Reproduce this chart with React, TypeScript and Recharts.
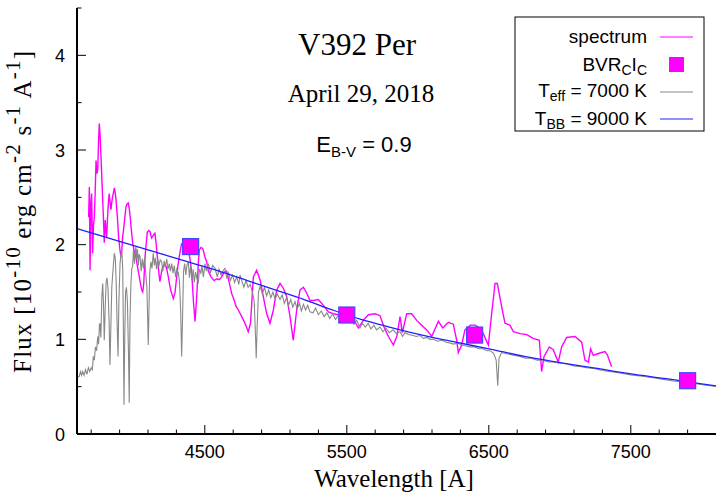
import React from 'react';
import { ComposedChart, Line, Scatter, XAxis, YAxis } from 'recharts';

// observed spectrum, [wavelength A, flux 1e-10]
const spectrum: [number, number][] = [
  [3682, 2.29], [3687, 2.61], [3692, 1.73], [3698, 2.45], [3703, 2.54], [3710, 1.91], [3716, 2.2], [3722, 2.29],
  [3728, 2.55], [3734, 2.89], [3740, 2.75], [3746, 2.79], [3752, 3.1], [3757, 3.28], [3763, 3.15], [3769, 2.93],
  [3775, 2.7], [3781, 2.47], [3787, 2.25], [3792, 2.02], [3799, 2.26], [3804, 2.15], [3809, 2.08], [3814, 2.25],
  [3818, 2.37], [3823, 2.48], [3827, 2.54], [3833, 2.45], [3839, 2.37], [3845, 2.45], [3851, 2.51], [3857, 2.55],
  [3863, 2.6], [3869, 2.55], [3875, 2.47], [3884, 2.3], [3893, 2.08], [3902, 1.95], [3910, 1.87], [3916, 1.95],
  [3921, 2.08], [3927, 2.15], [3933, 2.23], [3939, 2.32], [3945, 2.4], [3953, 2.43], [3961, 2.44], [3968, 2.38],
  [3975, 2.29], [3983, 2.15], [3992, 2.02], [4003, 1.93], [4015, 1.87], [4027, 1.76], [4039, 1.66], [4048, 1.58],
  [4056, 1.52], [4063, 1.5], [4070, 1.59], [4079, 1.87], [4088, 2.02], [4095, 2.13], [4105, 2.15], [4114, 2.14],
  [4120, 2.1], [4126, 2.07], [4138, 2.1], [4149, 2.12], [4158, 2.0], [4166, 1.87], [4175, 1.72], [4184, 1.61],
  [4194, 1.7], [4204, 1.77], [4215, 1.78], [4227, 1.77], [4235, 1.72], [4243, 1.66], [4252, 1.58], [4260, 1.52],
  [4270, 1.47], [4278, 1.43], [4290, 1.49], [4302, 1.66], [4311, 1.78], [4320, 1.87], [4330, 1.96], [4337, 2.01],
  [4349, 2.01], [4360, 1.99], [4372, 1.96], [4384, 1.94], [4396, 1.85], [4408, 1.7], [4420, 1.4], [4431, 1.19],
  [4440, 1.38], [4447, 1.56], [4454, 1.8], [4461, 1.94], [4473, 1.97], [4485, 1.96], [4493, 1.92], [4501, 1.87],
  [4513, 1.82], [4525, 1.72], [4544, 1.66], [4565, 1.62], [4584, 1.64], [4602, 1.63], [4619, 1.66], [4635, 1.71],
  [4654, 1.72], [4672, 1.6], [4690, 1.48], [4705, 1.42], [4720, 1.35], [4736, 1.31], [4760, 1.24], [4783, 1.17],
  [4806, 1.08], [4822, 1.17], [4842, 1.66], [4865, 1.73], [4889, 1.63], [4912, 1.45], [4936, 1.27], [4959, 1.17],
  [4983, 1.31], [5006, 1.52], [5030, 1.59], [5053, 1.54], [5077, 1.45], [5100, 1.24], [5123, 0.99], [5147, 1.31],
  [5170, 1.52], [5194, 1.55], [5217, 1.49], [5241, 1.41], [5264, 1.41], [5299, 1.42], [5334, 1.36], [5370, 1.29],
  [5405, 1.27], [5440, 1.26], [5476, 1.24], [5510, 1.23], [5546, 1.22], [5581, 1.12], [5616, 1.2], [5652, 1.26],
  [5699, 1.27], [5734, 1.25], [5762, 1.13], [5793, 1.03], [5828, 0.94], [5852, 1.03], [5875, 1.24], [5891, 1.07],
  [5922, 1.27], [5957, 1.27], [5992, 1.2], [6027, 1.15], [6063, 1.1], [6098, 1.03], [6145, 1.19], [6175, 1.12],
  [6215, 1.18], [6250, 1.16], [6274, 0.99], [6285, 0.86], [6309, 0.94], [6332, 1.1], [6370, 1.15], [6403, 1.15],
  [6426, 1.13], [6461, 1.06], [6497, 0.94], [6520, 1.27], [6544, 1.59], [6560, 1.59], [6591, 1.34], [6614, 1.17],
  [6649, 1.15], [6673, 1.08], [6720, 1.06], [6767, 1.05], [6813, 1.01], [6856, 0.99], [6872, 0.66], [6889, 0.82],
  [6926, 0.92], [6954, 0.89], [6989, 0.76], [7013, 0.92], [7048, 1.02], [7107, 1.03], [7154, 0.97], [7177, 0.78],
  [7201, 0.76], [7217, 0.9], [7236, 0.83], [7271, 0.85], [7318, 0.87], [7334, 0.84], [7365, 0.71],
];

// Teff = 7000 K model
const model: [number, number][] = [
  [3600, 0.6], [3616, 0.61], [3625, 0.66], [3632, 0.62], [3640, 0.66], [3650, 0.62], [3660, 0.68], [3670, 0.63],
  [3680, 0.7], [3690, 0.66], [3700, 0.7], [3708, 0.68], [3715, 0.82], [3722, 0.78], [3730, 0.92], [3738, 0.88],
  [3746, 1.03], [3752, 0.95], [3758, 1.15], [3762, 1.17], [3768, 1.02], [3775, 1.45], [3781, 1.59], [3786, 1.4],
  [3792, 0.99], [3798, 1.3], [3805, 1.6], [3811, 1.65], [3818, 1.55], [3826, 1.2], [3832, 0.73], [3838, 1.1],
  [3845, 1.55], [3852, 1.7], [3858, 1.82], [3863, 1.91], [3870, 1.85], [3876, 1.6], [3882, 1.2], [3889, 0.82],
  [3895, 1.4], [3903, 1.8], [3910, 1.9], [3915, 1.94], [3922, 1.75], [3926, 1.2], [3931, 0.31], [3936, 1.0],
  [3942, 1.5], [3948, 1.55], [3955, 1.4], [3962, 0.9], [3968, 0.33], [3973, 1.2], [3980, 1.6], [3986, 1.75],
  [3992, 1.77], [3998, 1.95], [4005, 1.8], [4010, 1.92], [4015, 1.98], [4020, 1.85], [4026, 1.95], [4032, 1.78],
  [4038, 1.9], [4044, 1.87], [4052, 1.72], [4060, 1.85], [4068, 1.75], [4076, 1.86], [4084, 1.7], [4092, 1.55],
  [4098, 1.2], [4102, 0.94], [4106, 1.25], [4112, 1.7], [4120, 1.82], [4128, 1.75], [4137, 1.91], [4145, 1.78],
  [4152, 1.86], [4160, 1.74], [4168, 1.85], [4176, 1.77], [4186, 1.84], [4196, 1.82], [4205, 1.72], [4214, 1.83],
  [4222, 1.76], [4232, 1.85], [4240, 1.74], [4250, 1.8], [4258, 1.72], [4267, 1.8], [4276, 1.7], [4285, 1.78],
  [4294, 1.66], [4303, 1.74], [4314, 1.7], [4322, 1.6], [4330, 1.3], [4337, 0.82], [4343, 1.2], [4350, 1.72],
  [4358, 1.8], [4366, 1.68], [4375, 1.79], [4384, 1.81], [4392, 1.65], [4400, 1.78], [4410, 1.62], [4418, 1.74],
  [4426, 1.6], [4435, 1.71], [4444, 1.65], [4454, 1.59], [4462, 1.74], [4472, 1.7], [4480, 1.78], [4490, 1.66],
  [4501, 1.8], [4510, 1.72], [4525, 1.8], [4540, 1.7], [4555, 1.78], [4572, 1.75], [4588, 1.66], [4600, 1.74],
  [4615, 1.68], [4630, 1.73], [4642, 1.75], [4655, 1.64], [4668, 1.7], [4680, 1.62], [4695, 1.68], [4710, 1.6],
  [4725, 1.66], [4740, 1.58], [4748, 1.68], [4760, 1.62], [4775, 1.55], [4790, 1.62], [4805, 1.55], [4820, 1.58],
  [4835, 1.5], [4848, 1.4], [4858, 1.0], [4862, 0.8], [4868, 1.1], [4878, 1.5], [4890, 1.56], [4905, 1.48],
  [4920, 1.55], [4935, 1.46], [4950, 1.52], [4965, 1.44], [4980, 1.5], [4995, 1.42], [5010, 1.48], [5030, 1.42],
  [5045, 1.47], [5060, 1.38], [5075, 1.44], [5090, 1.36], [5105, 1.42], [5120, 1.34], [5135, 1.4], [5150, 1.32],
  [5167, 1.38], [5180, 1.3], [5195, 1.37], [5210, 1.31], [5225, 1.36], [5240, 1.29], [5262, 1.28], [5280, 1.33],
  [5300, 1.26], [5320, 1.3], [5340, 1.24], [5360, 1.28], [5380, 1.22], [5400, 1.27], [5420, 1.21], [5440, 1.25],
  [5452, 1.24], [5470, 1.19], [5490, 1.24], [5510, 1.18], [5530, 1.22], [5550, 1.16], [5570, 1.2], [5593, 1.12],
  [5610, 1.17], [5630, 1.13], [5650, 1.17], [5670, 1.11], [5690, 1.15], [5710, 1.1], [5734, 1.13], [5755, 1.08],
  [5775, 1.12], [5800, 1.07], [5825, 1.1], [5850, 1.06], [5875, 1.08], [5893, 1.03], [5910, 1.07], [5935, 1.05],
  [5967, 1.04], [5990, 1.03], [6015, 1.04], [6040, 1.01], [6065, 1.02], [6086, 1.0], [6110, 1.0], [6140, 0.98],
  [6170, 0.99], [6200, 0.97], [6230, 0.96], [6250, 0.95], [6280, 0.96], [6310, 0.94], [6340, 0.93], [6370, 0.92],
  [6400, 0.92], [6430, 0.9], [6460, 0.9], [6485, 0.88], [6510, 0.88], [6535, 0.85], [6552, 0.78], [6563, 0.51],
  [6572, 0.8], [6590, 0.86], [6620, 0.85], [6650, 0.84], [6680, 0.83], [6720, 0.82], [6760, 0.8], [6800, 0.8],
  [6840, 0.78], [6880, 0.78], [6920, 0.76], [6954, 0.76], [7000, 0.75], [7050, 0.74], [7100, 0.72], [7150, 0.71],
  [7190, 0.7], [7250, 0.69], [7300, 0.67], [7350, 0.66], [7424, 0.645], [7500, 0.625], [7580, 0.61], [7656, 0.595],
  [7720, 0.58], [7800, 0.56], [7893, 0.545], [7960, 0.53], [8030, 0.515], [8093, 0.505],
];

// TBB = 9000 K black body
const blackBody: [number, number][] = [
  [3600, 2.17], [3800, 2.08], [4000, 1.99], [4200, 1.9], [4400, 1.81], [4600, 1.72], [4800, 1.62], [5000, 1.52],
  [5200, 1.42], [5400, 1.31], [5600, 1.21], [5800, 1.13], [6000, 1.055], [6250, 0.975], [6500, 0.9], [6750, 0.82],
  [7000, 0.755], [7250, 0.695], [7500, 0.635], [7750, 0.585], [8000, 0.53], [8100, 0.507],
];

// B, V, Rc, Ic photometry
const photometry: [number, number][] = [[4400, 1.98], [5500, 1.257], [6400, 1.045], [7900, 0.563]];

const xTicks = [3700, 3900, 4100, 4300, 4500, 4700, 4900, 5100, 5300, 5500, 5700, 5900, 6100, 6300, 6500, 6700, 6900, 7100, 7300, 7500, 7700, 7900];
const xMajor = [4500, 5500, 6500, 7500];
const yTicks = [0, 0.5, 1, 1.5, 2, 2.5, 3, 3.5, 4, 4.5];
const yMajor = [0, 1, 2, 3, 4];

const toRows = (arr: [number, number][]) => arr.map(([wl, f]) => ({ wl, f }));

const SANS = "'Liberation Sans', Arial, Helvetica, sans-serif";
const SERIF = "'Liberation Serif', 'Times New Roman', serif";

const BottomTick = ({ x, y, payload }: any) => {
  const major = xMajor.includes(payload.value);
  return (
    <g>
      <line x1={x} x2={x} y1={y} y2={y - (major ? 9 : 4.5)} stroke="#000" />
      {major && (
        <text x={x} y={y + 24} textAnchor="middle" fontFamily={SANS} fontSize={18} fill="#000">
          {payload.value}
        </text>
      )}
    </g>
  );
};

const TopTick = ({ x, y, payload }: any) => {
  const major = xMajor.includes(payload.value);
  return <line x1={x} x2={x} y1={y} y2={y + (major ? 9 : 4.5)} stroke="#000" />;
};

const LeftTick = ({ x, y, payload }: any) => {
  const major = yMajor.includes(payload.value);
  return (
    <g>
      <line x1={x} x2={x + (major ? 9 : 4.5)} y1={y} y2={y} stroke="#000" />
      {major && (
        <text x={x - 12} y={y + 6.5} textAnchor="end" fontFamily={SANS} fontSize={18} fill="#000">
          {payload.value}
        </text>
      )}
    </g>
  );
};

const RightTick = ({ x, y, payload }: any) => {
  const major = yMajor.includes(payload.value);
  return <line x1={x} x2={x - (major ? 9 : 4.5)} y1={y} y2={y} stroke="#000" />;
};

const BandSquare = ({ cx, cy }: any) => (
  <rect x={cx - 8} y={cy - 8} width={16} height={16} fill="#ff00ff" stroke="#4646ff" strokeWidth={1.2} />
);

const frame = { stroke: '#000', strokeWidth: 2 };

export default function App() {
  return (
    <div style={{ position: 'absolute', left: 0, top: 0, width: 721, height: 498, background: '#fff' }}>
      <ComposedChart width={721} height={498} margin={{ top: 8, right: 5, bottom: 34, left: 17 }}>
        <XAxis xAxisId="x" dataKey="wl" type="number" domain={[3600, 8100]} allowDataOverflow ticks={xTicks}
          interval={0} height={30} tickSize={0} tickMargin={0} tickLine={false} axisLine={frame}
          tick={(p: any) => <BottomTick {...p} />} />
        <XAxis xAxisId="top" orientation="top" dataKey="wl" type="number" domain={[3600, 8100]} allowDataOverflow
          ticks={xTicks} interval={0} height={0} tickSize={0} tickMargin={0} tickLine={false} axisLine={frame}
          tick={(p: any) => <TopTick {...p} />} />
        <YAxis yAxisId="y" type="number" domain={[0, 4.5]} allowDataOverflow ticks={yTicks} interval={0}
          width={60} tickSize={0} tickMargin={0} tickLine={false} axisLine={frame}
          tick={(p: any) => <LeftTick {...p} />} />
        <YAxis yAxisId="right" orientation="right" type="number" domain={[0, 4.5]} allowDataOverflow ticks={yTicks}
          interval={0} width={0} tickSize={0} tickMargin={0} tickLine={false} axisLine={frame}
          tick={(p: any) => <RightTick {...p} />} />
        <Line xAxisId="x" yAxisId="y" data={toRows(spectrum)} dataKey="f" type="linear" stroke="#ff00ff"
          strokeWidth={1.4} dot={false} isAnimationActive={false} />
        <Line xAxisId="x" yAxisId="y" data={toRows(model)} dataKey="f" type="linear" stroke="#888888"
          strokeWidth={1.1} dot={false} isAnimationActive={false} />
        <Line xAxisId="x" yAxisId="y" data={toRows(blackBody)} dataKey="f" type="monotone" stroke="#1f1fff"
          strokeWidth={1.3} dot={false} isAnimationActive={false} />
        <Scatter xAxisId="x" yAxisId="y" data={toRows(photometry)} dataKey="f" shape={(p: any) => <BandSquare {...p} />}
          isAnimationActive={false} />
      </ComposedChart>

      <svg width={721} height={498} style={{ position: 'absolute', left: 0, top: 0, pointerEvents: 'none' }}>
        <text x={357} y={55} textAnchor="middle" fontFamily={SERIF} fontSize={31} fill="#000">V392 Per</text>
        <text x={361} y={102} textAnchor="middle" fontFamily={SERIF} fontSize={25} fill="#000">April 29, 2018</text>
        <text x={364} y={152} textAnchor="middle" fontFamily={SANS} fontSize={22} fill="#000">
          E<tspan fontSize={15} dy={5}>B-V</tspan><tspan dy={-5}> = 0.9</tspan>
        </text>

        <text x={394} y={487} textAnchor="middle" fontFamily={SERIF} fontSize={25} fill="#000">Wavelength [A]</text>
        <text transform="translate(31,212) rotate(-90)" textAnchor="middle" fontFamily={SERIF} fontSize={25} fill="#000"
          textLength={322} lengthAdjust="spacing">
          Flux [10<tspan fontSize={21} dy={-11}>-10</tspan>
          <tspan dy={11}> erg cm</tspan><tspan fontSize={21} dy={-11}>-2</tspan>
          <tspan dy={11}> s</tspan><tspan fontSize={21} dy={-11}>-1</tspan>
          <tspan dy={11}> A</tspan><tspan fontSize={21} dy={-11}>-1</tspan>
          <tspan dy={11}>]</tspan>
        </text>

        <rect x={515} y={17} width={189} height={114} fill="none" stroke="#000" strokeWidth={1} />
        <g fontFamily={SANS} fontSize={19} fill="#000" textAnchor="end">
          <text x={647} y={43}>spectrum</text>
          <text x={647} y={71}>BVR<tspan fontSize={14} dy={4}>C</tspan><tspan dy={-4}>I</tspan><tspan fontSize={14} dy={4}>C</tspan></text>
          <text x={647} y={97}>T<tspan fontSize={14} dy={4}>eff</tspan><tspan dy={-4}> = 7000 K</tspan></text>
          <text x={647} y={125}>T<tspan fontSize={14} dy={4}>BB</tspan><tspan dy={-4}> = 9000 K</tspan></text>
        </g>
        <line x1={660} x2={693} y1={37} y2={37} stroke="#ff00ff" strokeWidth={1} />
        <rect x={669} y={57} width={15} height={15} fill="#ff00ff" />
        <line x1={660} x2={693} y1={92} y2={92} stroke="#888888" strokeWidth={1} />
        <line x1={660} x2={693} y1={119} y2={119} stroke="#1f1fff" strokeWidth={1} />
      </svg>
    </div>
  );
}
